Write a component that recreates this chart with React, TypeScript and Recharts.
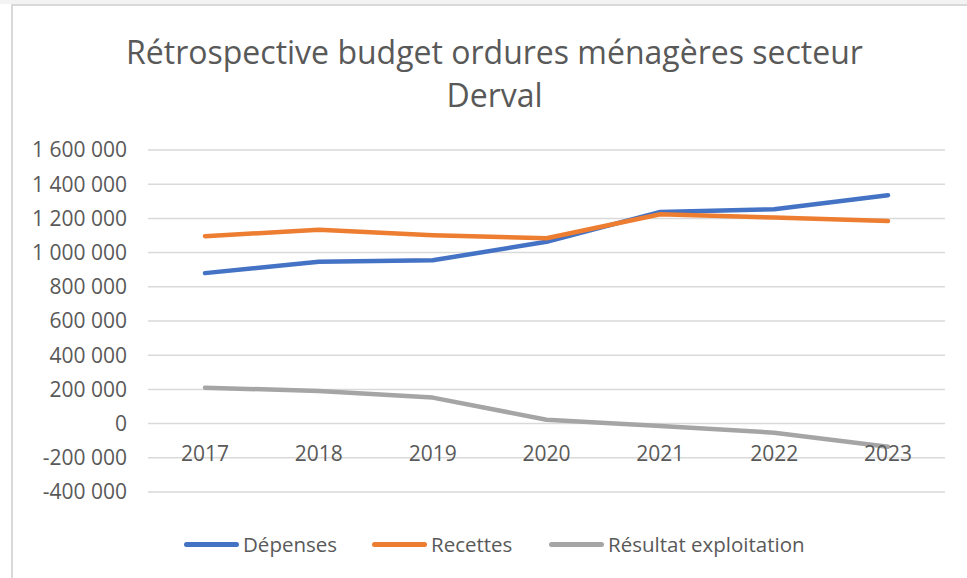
import React from "react";
import { LineChart, Line, XAxis, YAxis, CartesianGrid } from "recharts";

const years = ["2017", "2018", "2019", "2020", "2021", "2022", "2023"];
const depenses = [880000, 946000, 955000, 1063000, 1238000, 1254000, 1336000];
const recettes = [1096000, 1133000, 1102000, 1084000, 1224000, 1205000, 1185000];
const resultat = [210000, 191000, 152000, 23000, -14000, -53000, -135000];
const yTicks = [-400000, -200000, 0, 200000, 400000, 600000, 800000, 1000000, 1200000, 1400000, 1600000];

const titleLines = ["Rétrospective budget ordures ménagères secteur", "Derval"];

const series = [
  { key: "depenses", name: "Dépenses", color: "#4472C4", values: depenses },
  { key: "recettes", name: "Recettes", color: "#ED7D31", values: recettes },
  { key: "resultat", name: "Résultat exploitation", color: "#A5A5A5", values: resultat },
];

const data = years.map((y, i) => {
  const row: any = { year: y };
  series.forEach((s) => (row[s.key] = s.values[i]));
  return row;
});

const FONT = "'Open Sans', 'Noto Sans', sans-serif";
const TEXT = "#595959";

function fmt(v: number) {
  const neg = v < 0;
  const s = Math.abs(v).toString();
  const parts: string[] = [];
  for (let i = s.length; i > 0; i -= 3) parts.unshift(s.slice(Math.max(0, i - 3), i));
  return (neg ? "-" : "") + parts.join(" ");
}

const XTick = (props: any) => {
  const { x, y, payload } = props;
  return (
    <text x={x} y={y - 31} textAnchor="middle" fill={TEXT} fontSize={21} fontFamily={FONT}>
      {payload.value}
    </text>
  );
};

export default function App() {
  return (
    <div style={{ position: "absolute", left: 0, top: 0, width: 967, height: 578, background: "#ffffff", overflow: "hidden" }}>
      <div style={{ position: "absolute", left: 0, top: 0, width: 967, height: 4, background: "#f3f3f3" }} />
      <div
        style={{
          position: "absolute",
          left: 11,
          top: 4,
          width: 956,
          height: 574,
          borderTop: "2px solid #d9d9d9",
          borderLeft: "2px solid #d9d9d9",
          boxSizing: "border-box",
        }}
      />
      {titleLines.map((t, i) => (
        <div
          key={i}
          style={{
            position: "absolute",
            left: 0,
            width: 989,
            top: 30 + i * 43,
            textAlign: "center",
            fontFamily: FONT,
            fontSize: 32,
            lineHeight: "44px",
            color: TEXT,
            whiteSpace: "nowrap",
          }}
        >
          {t}
        </div>
      ))}
      <div style={{ position: "absolute", left: 0, top: 0 }}>
        <LineChart width={967} height={578} data={data} margin={{ top: 150, right: 22, bottom: 56, left: 0 }}>
          <CartesianGrid vertical={false} stroke="#d9d9d9" strokeWidth={1.5} />
          <XAxis
            dataKey="year"
            axisLine={false}
            tickLine={false}
            tickSize={0}
            tickMargin={0}
            height={30}
            padding={{ left: 57, right: 57 }}
            tick={<XTick />}
            interval={0}
          />
          <YAxis
            domain={[-400000, 1600000]}
            ticks={yTicks}
            width={148}
            axisLine={false}
            tickLine={false}
            tickSize={0}
            tickMargin={21}
            tickFormatter={fmt}
            tick={{ fill: TEXT, fontSize: 21, fontFamily: FONT }}
            interval={0}
          />
          {series.map((s) => (
            <Line
              key={s.key}
              dataKey={s.key}
              name={s.name}
              stroke={s.color}
              strokeWidth={4.5}
              strokeLinecap="round"
              strokeLinejoin="round"
              dot={false}
              activeDot={false}
              isAnimationActive={false}
            />
          ))}
        </LineChart>
      </div>
      {(() => {
        const lefts = [184, 372, 549];
        return series.map((s, i) => (
          <div
            key={s.key}
            style={{ position: "absolute", left: lefts[i], top: 530, height: 28, display: "flex", alignItems: "center" }}
          >
            <div style={{ width: 55, height: 5, borderRadius: 3, background: s.color }} />
            <span style={{ marginLeft: 4, fontFamily: FONT, fontSize: 20.5, color: TEXT, whiteSpace: "nowrap" }}>{s.name}</span>
          </div>
        ));
      })()}
    </div>
  );
}
